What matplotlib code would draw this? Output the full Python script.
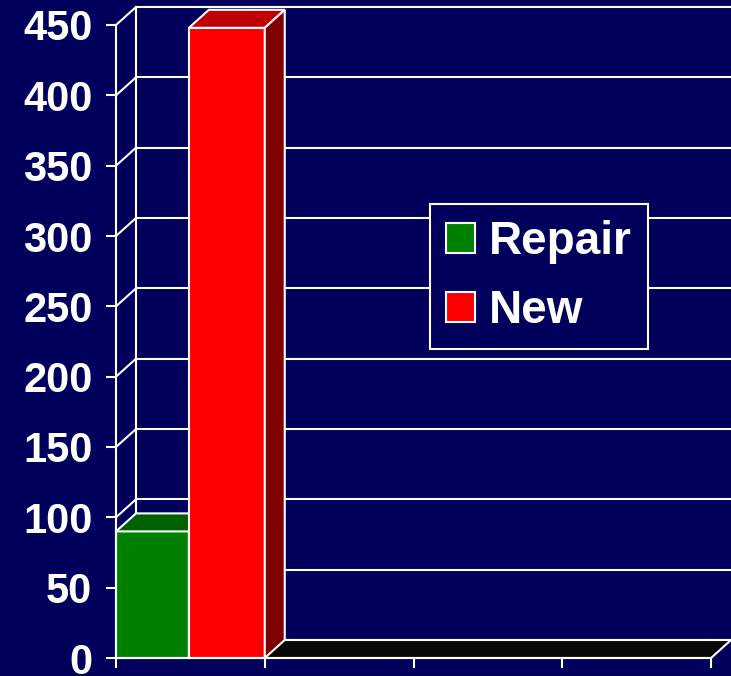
import numpy as np
import matplotlib.pyplot as plt
from matplotlib.patches import Polygon, Patch

# Chart data

series = ["Repair", "New"]
values = [90, 448]
bar_colors = ["#008000", "#ff0000"]
top_colors = ["#006000", "#c00000"]
side_colors = ["#004000", "#800000"]
n_categories = 4
yticks = list(range(0, 451, 50))

# Look

navy = "#00005c"
floor_color = "#080808"
edge = "white"
lw = 1.5

W, H = 731, 676
fig = plt.figure(figsize=(W / 100, H / 100), dpi=100, facecolor=navy)

# front plane of the 3d box, in pixels
x0, x1 = 116, 711
y0, y1 = 658, 25
ax = fig.add_axes([x0 / W, (H - y0) / H, (x1 - x0) / W, (y0 - y1) / H])
ax.set_facecolor("none")
ax.set_xlim(0, n_categories)
ax.set_ylim(0, 450)

# depth offset of the back wall (pixels -> data units)
ddx = 20 / ((x1 - x0) / n_categories)
ddy = 18 / ((y0 - y1) / 450)


def face(pts, color, z):
    ax.add_patch(
        Polygon(pts, closed=True, facecolor=color, edgecolor=edge,
                linewidth=lw, zorder=z, clip_on=False, joinstyle="miter")
    )


# Walls and grid

for v in yticks:
    ax.plot([ddx, n_categories + ddx], [v + ddy, v + ddy], color=edge,
            lw=lw, clip_on=False, zorder=1)
    ax.plot([0, ddx], [v, v + ddy], color=edge, lw=lw, clip_on=False, zorder=1)
ax.plot([ddx, ddx], [ddy, 450 + ddy], color=edge, lw=lw, clip_on=False, zorder=1)

# floor
face([(0, 0), (n_categories, 0), (n_categories + ddx, ddy), (ddx, ddy)],
     floor_color, 2)

# Bars (both in the first category)

bw = 0.49
left = 0.0
for i, (name, v) in enumerate(zip(series, values)):
    w = bw if i == 0 else 1.0 - bw
    l, r = left, left + w
    z = 3 + i
    face([(l, 0), (r, 0), (r, v), (l, v)], bar_colors[i], z)
    face([(l, v), (r, v), (r + ddx, v + ddy), (l + ddx, v + ddy)], top_colors[i], z)
    face([(r, 0), (r + ddx, ddy), (r + ddx, v + ddy), (r, v)], side_colors[i], z)
    left = r

# Axes

for s in ["top", "right"]:
    ax.spines[s].set_visible(False)
for s in ["left", "bottom"]:
    ax.spines[s].set_color(edge)
    ax.spines[s].set_linewidth(lw)
    ax.spines[s].set_zorder(10)

ax.set_yticks(yticks)
ax.set_xticks(np.arange(n_categories + 1))
ax.set_xticklabels([])
ax.tick_params(axis="y", colors=edge, length=7, width=lw, pad=10,
               labelsize=30, labelcolor="white")
ax.tick_params(axis="x", colors=edge, length=7, width=lw)
for t in ax.get_yticklabels():
    t.set_fontfamily("Liberation Sans")
    t.set_fontweight("bold")

# Legend

handles = [Patch(facecolor=c, edgecolor=edge, linewidth=lw) for c in bar_colors]
leg = fig.legend(
    handles, series,
    loc="upper left",
    bbox_to_anchor=(430 / W, 1 - 204 / H),
    frameon=True, fancybox=False,
    facecolor=navy, edgecolor=edge, framealpha=1,
    prop={"family": "Liberation Sans", "weight": "bold", "size": 33},
    labelcolor="white",
    handlelength=0.63, handleheight=0.63, handletextpad=0.3,
    borderpad=0.35, labelspacing=0.54, borderaxespad=0,
)
leg.get_frame().set_linewidth(lw)

fig.savefig("out.png", dpi=100, facecolor=navy)
plt.close(fig)
